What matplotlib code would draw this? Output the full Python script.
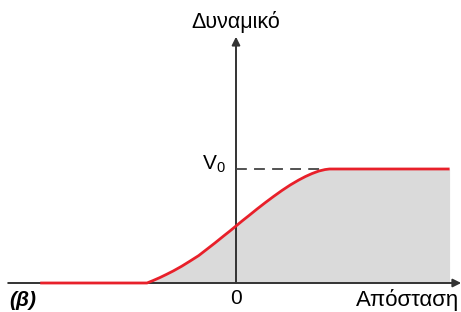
import matplotlib.pyplot as plt

plt.rcParams["font.family"] = ["Liberation Sans", "DejaVu Sans"]

# θέση (σε μονάδες εύρους περιοχής) και δυναμικό (σε μονάδες V0), όπως διαβάζονται από το σχήμα
pos = [-2.2, -1.0, -0.93, -0.854, -0.78, -0.704, -0.61, -0.517, -0.42, -0.329,
       -0.235, -0.143, -0.07, 0.0, 0.07, 0.143, 0.235, 0.329, 0.42, 0.517,
       0.61, 0.704, 0.78, 0.854, 0.93, 1.0, 1.05, 2.4]
pot = [0.0, 0.0, 0.022, 0.048, 0.076, 0.106, 0.147, 0.192, 0.24, 0.295,
       0.352, 0.41, 0.455, 0.5, 0.545, 0.59, 0.648, 0.705, 0.758, 0.812,
       0.86, 0.903, 0.934, 0.96, 0.982, 0.995, 1.0, 1.0]

x_label = "Απόσταση"
y_label = "Δυναμικό"
v0_label = r"V$_\mathregular{0}$"
part_label = "(β)"

fig = plt.figure(figsize=(4.61, 3.12), dpi=100, facecolor="white")
ax = fig.add_axes([0, 0, 1, 1])
ax.set_xlim(-236 / 89, (461 - 236) / 89)
ax.set_ylim((283 - 312) / 114, 283 / 114)
ax.axis("off")

# γκρι περιοχή κάτω από την καμπύλη
fx = [p for p in pos if p >= -1.0]
fy = pot[len(pos) - len(fx):]
ax.fill_between(fx, 0, fy, color="#dadada", lw=0, zorder=1)

# άξονες με βέλη
ax.annotate("", xy=(2.53, 0), xytext=(-2.56, 0),
            arrowprops=dict(arrowstyle="-|>", color="#333333", lw=1.4,
                            mutation_scale=12, shrinkA=0, shrinkB=0), zorder=2)
ax.annotate("", xy=(0, 2.16), xytext=(0, 0),
            arrowprops=dict(arrowstyle="-|>", color="#333333", lw=1.4,
                            mutation_scale=12, shrinkA=0, shrinkB=0), zorder=2)

# διακεκομμένη γραμμή V0
ax.plot([0, 1.0], [1.0, 1.0], color="#444444", lw=1.3, ls=(0, (6, 4)), zorder=2)

# καμπύλη δυναμικού
ax.plot(pos, pot, color="#e8202a", lw=2.0, zorder=3, solid_capstyle="butt",
        solid_joinstyle="round")

# κείμενα
ax.text(0, 2.29, y_label, ha="center", va="center", fontsize=15.5)
ax.text(-0.11, 1.0, v0_label, ha="right", va="baseline", fontsize=15)
ax.text(0, -0.14, "0", ha="center", va="center", fontsize=15)
ax.text(2.51, -0.15, x_label, ha="right", va="center", fontsize=16)
ax.text(-2.55, -0.15, part_label, ha="left", va="center", fontsize=15,
        fontweight="bold", fontstyle="italic")

plt.savefig("out.png", dpi=100, facecolor="white")
